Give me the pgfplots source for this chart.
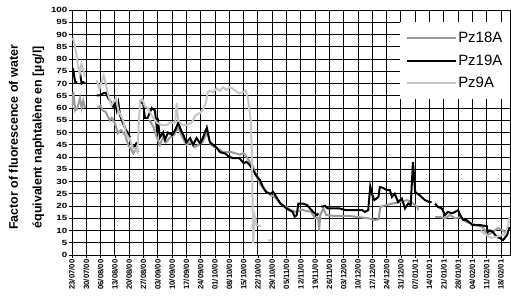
\documentclass[border=0pt]{standalone}
\usepackage{fontspec}
\setmainfont{Liberation Sans}
\usepackage{pgfplots}
\pgfplotsset{compat=1.18}
\definecolor{gmed}{HTML}{9A9A9A}
\definecolor{glight}{HTML}{C6C6C6}
\begin{document}
\begin{tikzpicture}
\begin{axis}[
  name=ax,
  scale only axis, width=438bp, height=245bp,
  xmin=0, xmax=214.4, ymin=0, ymax=100,
  xtick={0,7,...,210},
  xticklabels={23/07/00,30/07/00,06/08/00,13/08/00,20/08/00,27/08/00,03/09/00,10/09/00,17/09/00,24/09/00,01/10/00,08/10/00,15/10/00,22/10/00,29/10/00,05/11/00,12/11/00,19/11/00,26/11/00,03/12/00,10/12/00,17/12/00,24/12/00,31/12/00,07/01/01,14/01/01,21/01/01,28/01/01,04/02/01,11/02/01,18/02/01},
  ytick={0,5,...,100},
  yticklabel={\scalebox{1.3}[1]{\pgfmathprintnumber{\tick}}},
  grid=major,
  major grid style={black, line width=0.9bp},
  axis line style={black, line width=0.9bp},
  tick style={black, line width=0.8bp},
  tick align=outside, major tick length=3bp, tick pos=left,
  /pgf/number format/assume math mode=true,
  x tick label style={rotate=90, anchor=east, font=\bfseries\fontsize{7.7}{8}\selectfont, inner sep=1.5bp},
  y tick label style={font=\bfseries\fontsize{7.5}{8}\selectfont, inner sep=1.5bp},
  unbounded coords=jump,
  every axis y label/.style={at={(rel axis cs:0,0.48)}, anchor=center, xshift=-47bp, rotate=90},
  ylabel={\fontsize{12.5}{24}\selectfont\bfseries\begin{tabular}{c}Factor of fluorescence of water\\équivalent naphtalène en [µg/l]\end{tabular}},
  legend style={at={(rel axis cs:1,0.951)}, anchor=north east, draw=none, fill=white,
    font=\fontsize{15}{17}\selectfont, row sep=7.5bp, inner xsep=6bp, inner ysep=8.5bp,
    nodes={inner sep=1.5bp}},
  legend cell align=left,
  legend image code/.code={\draw[#1] (0bp,0bp) -- (49bp,0bp);},
]
\addplot[gmed, line width=2bp] coordinates {
(0,60)(0.7,66.5)(1.6,59)(2.6,60)(3.9,64)(4.7,60)(5.5,63)(6.4,60) (6.5,nan)
(12.5,60)(14,61)(15,59)(16.5,58.4)(18.5,55)(19.5,56)(21,53.7)(22.5,49.7)(24,51)(26,49)(27.5,45)(29,43)(30,41.5)(31.5,43.6)(32.5,42) (33,nan)
(38,55)(40,52)(41.5,48)(43,45)(44.5,48)(46,46)(48,48)(50,49)(52,52)(54,48)(56,45)(58,46)(60,44)(62,45)(64,46)(66,50)(68,45)(70,44)(72,43)(74,42)(76,42)(78,42)(80,41.5)(82,41)(84,41.5)(85.5,40)(87,38)(88.7,36)(90,33)(92,29)(93.5,27.5)(95,26)(97,24.5)(98.5,24)(100,23)(102,21)(104,20)(105,19.6)(106.5,18.5)(108,18)(110,17.5)(112,18.5)(115,18)(117,17.6)(119,15)(120.5,15)(121,10)(121.5,16.3)(123,19)(124.5,16.3)(128,16)(135,16)(140,15.5)(145,15)(148,14.3)(150,14.5)(151,19.7)(154,20.4)(157,21)(160.5,21.6)(164,22.4)(166,21.6)(169,19.7)(169.5,18.3) (170,nan)
(177.7,15.5)(180,15.5)(182.6,15)(185,16.3)(187.5,15)(190,15.5)(193,13.5)(198,12.2)(201,11.4)(203.5,8.2)(206,9.4)(208.5,11)(211,10)(213,8.2)
};
\addlegendentry{Pz18A}
\addplot[black, line width=2bp] coordinates {
(0,74.7)(0.6,75.4)(1.5,70.7)(2.6,70.4) (3,nan) (3.9,74.7)(4.7,70)(5.5,70.5)(6.4,70) (7,nan)
(12.1,65.2)(13.7,65.2)(15.3,66)(16.6,66.2)(17.8,63.9)(18.6,63)(20.2,60.5)(21,62)(21.9,59)(22.7,62)(23.5,57)(25,53.7)(26.4,51)(27.6,49.6)(28.4,48) (29,nan) (29.5,44)(30.8,44.5)(31.8,46) (32,nan)
(33.3,62.4)(34.8,62)(35.7,56)(37,56)(39,60)(40.6,59)(41.5,52)(42.2,54)(43,48)(44.6,50)(45.5,47)(47,50)(49,49)(50.5,51)(52,54)(53.3,51)(54.5,49)(56,46)(57.8,47.7)(59.3,45)(61,47.7)(62.7,45.6)(64,47.7)(66,52)(67.5,46)(69,45)(71,43.6)(72.4,42)(75,41.4)(77,40)(79,39.5)(82,39.5)(84,37.5)(85.5,38)(87,36.7)(88.7,34.6)(90,32.6)(92,30.6)(93.5,27.7)(95,25.7)(97,25)(98.5,25.7)(100,23.7)(102,21)(103,20.4)(105,19)(106.5,18.3)(108,17.6)(109,15.6)(110,16.3)(110.8,21)(113,21)(115,20.4)(116.5,19)(118,17.6)(120,16.3)(120.5,17) (121,nan)
(122,19.7)(124,20)(125,19)(128,19)(131,19)(134,18.3)(138,18.3)(142,18.3)(143.4,17.6)(145,18.3)(146,28)(147,24.5)(148,22.4)(150,23.7)(150.7,27.7)(152,27.5)(154,26.5)(155.6,26.5)(156.6,23.7)(158,25)(159.6,21.6)(161.5,23)(163,19)(164.6,21)(165.8,20.4)(166.9,38)(168,25.7)(170,24.5)(172.8,22.4)(175,21.6)(176,21.6) (177,nan)
(177.7,21)(179,19.7)(181,19)(182.6,16.3)(184,17.6)(186,17)(187.5,17.6)(189,18.3)(190,16.3)(191.5,14.3)(193,14.3)(195,13)(196,12.2)(199.7,12.2)(203,11.8)(203.5,9.4)(204.5,10)(206,9.4)(208,7.3)(209.5,6.9)(211,6.1)(213,8.2)(214,11.4)
};
\addlegendentry{Pz19A}
\addplot[glight, line width=2bp] coordinates {
(0,88)(0.5,88.3)(1.2,86.4)(2.3,81)(3,76.8)(3.8,74)(4.6,78)(5.5,75.4)(6.4,72.6) (7,nan)
(12,71.3)(13.5,68)(15.5,73.4)(16.3,70.6)(18,64.5)(19.3,61)(21.5,64)(22.7,59)(25,55)(26.4,49.7)(28.4,47)(29.8,43.6)(31,43)(32,42)(33.3,63)(34.5,63.5)(35.5,61)(37,60)(39,57)(41.6,54)(44,53)(46.5,53)(48,54)(50.5,54)(51.2,62)(52,55)(54,53)(56,53)(58.5,54)(60.5,57)(62.7,58)(64.5,60)(65.5,62)(66.5,66.5)(67.5,67)(69,66.5)(71,68)(72.4,67)(74,68.5)(75.5,67.3)(77,68.5)(78.5,68)(80,67)(82,66)(83.5,66.5)(85,67)(86,64.5)(87.5,55)(88,43)(88.7,5)(89.5,15.6)(90.5,12.2)(92.5,11.8) (93,nan)
(96,6)(98,6) (99,nan)
(200,10)(203,8)(205,7)(207.5,7.3)(210,8)(212,8.5)(213.5,12)(214,15.5)
};
\addlegendentry{Pz9A}
\end{axis}
\pgfresetboundingbox
\path ([shift={(-72bp,-45bp)}]ax.south west) rectangle ([shift={(1bp,10bp)}]ax.north east);
\end{tikzpicture}
\end{document}
